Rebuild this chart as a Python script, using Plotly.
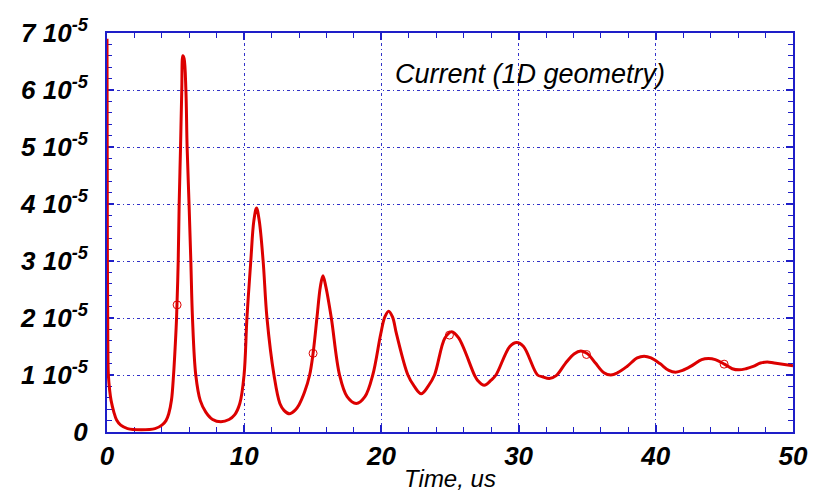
import plotly.graph_objects as go

# Time (us) and current (in units of 1e-5)
time_us = [0.0, 0.03, 0.06, 0.1, 0.2, 0.3, 0.5, 0.7, 1.0, 1.5, 2.5, 3.5, 4.0, 4.3, 4.5, 4.7,
           4.85, 4.97, 5.07, 5.19, 5.26, 5.36, 5.45, 5.53, 5.62, 5.75, 5.84, 5.98, 6.11, 6.23,
           6.47, 6.8, 7.2, 7.7, 8.3, 8.9, 9.3, 9.68, 9.99, 10.2, 10.48, 10.7, 10.9, 11.1,
           11.38, 11.66, 12.17, 12.6, 12.9, 13.3, 13.7, 14.0, 14.4, 14.77, 15.02, 15.3, 15.55, 15.74,
           15.95, 16.35, 16.95, 17.5, 18.17, 18.8, 19.37, 19.95, 20.25, 20.53, 20.81, 21.1, 21.93,
           22.4, 22.9, 23.4, 23.87, 24.63, 25.13, 25.63, 26.78, 27.0, 27.5, 28.0, 28.35,
           29.36, 29.86, 30.36, 31.38, 31.74, 32.24, 32.74, 33.4, 34.04, 34.54, 35.04, 35.6,
           36.22, 36.72, 37.22, 37.9, 38.65, 39.15, 39.65, 40.3, 40.95, 41.45, 41.95, 42.6,
           43.34, 43.84, 44.34, 45.0, 45.57, 46.07, 46.57, 47.1, 47.63, 48.13, 48.63, 50.0]
current_e5 = [6.9, 3.0, 1.6, 1.0, 0.72, 0.55, 0.35, 0.21, 0.12, 0.06, 0.04, 0.06, 0.12, 0.2, 0.32, 0.56,
              1.0, 1.5, 2.0, 3.0, 4.0, 5.0, 6.0, 6.6, 6.55, 6.0, 5.0, 4.0, 3.0, 2.0,
              1.0, 0.55, 0.35, 0.22, 0.18, 0.22, 0.3, 0.5, 1.0, 2.0, 3.0, 3.7, 3.93, 3.7,
              3.0, 2.0, 1.0, 0.5, 0.38, 0.32, 0.38, 0.48, 0.7, 1.0, 1.38, 2.0, 2.55, 2.74,
              2.55, 2.0, 1.0, 0.62, 0.5, 0.62, 1.0, 1.72, 2.02, 2.12, 2.02, 1.72, 1.0,
              0.8, 0.67, 0.8, 1.0, 1.65, 1.76, 1.65, 1.0, 0.91, 0.82, 0.91, 1.0,
              1.5, 1.57, 1.5, 1.0, 0.97, 0.94, 0.99, 1.2, 1.37, 1.42, 1.37, 1.21,
              1.04, 1.0, 1.04, 1.15, 1.30, 1.33, 1.30, 1.2, 1.08, 1.05, 1.08, 1.16,
              1.27, 1.29, 1.27, 1.19, 1.11, 1.09, 1.11, 1.15, 1.21, 1.23, 1.21, 1.16]

marker_t = [5.11, 15.02, 24.96, 34.95, 44.98]
marker_e5 = [2.23, 1.38, 1.70, 1.36, 1.19]

y_tick_vals_e5 = [0, 1, 2, 3, 4, 5, 6, 7]
y_tick_text = ["0"] + [f"{v} 10<sup>-5</sup>" for v in y_tick_vals_e5[1:]]
x_tick_vals = [0, 10, 20, 30, 40, 50]

current = [v * 1e-5 for v in current_e5]
marker_current = [v * 1e-5 for v in marker_e5]

RED = "rgb(220,0,0)"
BLUE = "rgb(30,30,200)"
GRID = "rgb(50,50,200)"
FONT = "Liberation Sans, Arial, sans-serif"

fig = go.Figure()
fig.add_trace(go.Scatter(x=time_us, y=current, mode="lines",
                         line=dict(color=RED, width=3, shape="spline", smoothing=1.0),
                         showlegend=False, cliponaxis=False))
fig.add_trace(go.Scatter(x=marker_t, y=marker_current, mode="markers",
                         marker=dict(symbol="circle-open", size=8, color=RED, line=dict(width=1, color=RED)),
                         showlegend=False))

fig.add_annotation(x=30.8, y=6.28e-5, text="Current (1D geometry)", showarrow=False,
                   font=dict(family=FONT, size=27, color="black", style="italic"))

fig.update_layout(
    width=823, height=492,
    margin=dict(l=107, r=30, t=33, b=60),
    paper_bgcolor="white", plot_bgcolor="white",
    xaxis=dict(range=[0, 50], tickvals=x_tick_vals, ticktext=[str(v) for v in x_tick_vals],
               showline=True, linecolor=BLUE, linewidth=2, mirror="ticks",
               ticks="inside", ticklen=7, tickcolor=BLUE, tickwidth=2,
               showgrid=True, gridcolor=GRID, gridwidth=1, griddash="3px,3px,1px,3px",
               zeroline=False, layer="below traces", ticklabelstandoff=0, automargin=False,
               minor=dict(dtick=2, ticks="inside", ticklen=5, tickcolor=BLUE, tickwidth=1, showgrid=False),
               tickfont=dict(family=FONT, size=26, color="black", style="italic", weight="bold"),
               title=dict(text="Time, us", standoff=4,
                          font=dict(family=FONT, size=24, color="black", style="italic"))),
    yaxis=dict(range=[0, 7e-5], tickvals=[v * 1e-5 for v in y_tick_vals_e5], ticktext=y_tick_text,
               showline=True, linecolor=BLUE, linewidth=2, mirror="ticks",
               ticks="inside", ticklen=7, tickcolor=BLUE, tickwidth=2,
               showgrid=True, gridcolor=GRID, gridwidth=1, griddash="3px,3px,1px,3px",
               zeroline=False, layer="below traces", ticklabelstandoff=12, automargin=False,
               minor=dict(dtick=0.2e-5, tick0=0, ticks="inside", ticklen=5, tickcolor=BLUE, tickwidth=1, showgrid=False),
               tickfont=dict(family=FONT, size=26, color="black", style="italic", weight="bold")),
)

fig.write_html("out.html")
